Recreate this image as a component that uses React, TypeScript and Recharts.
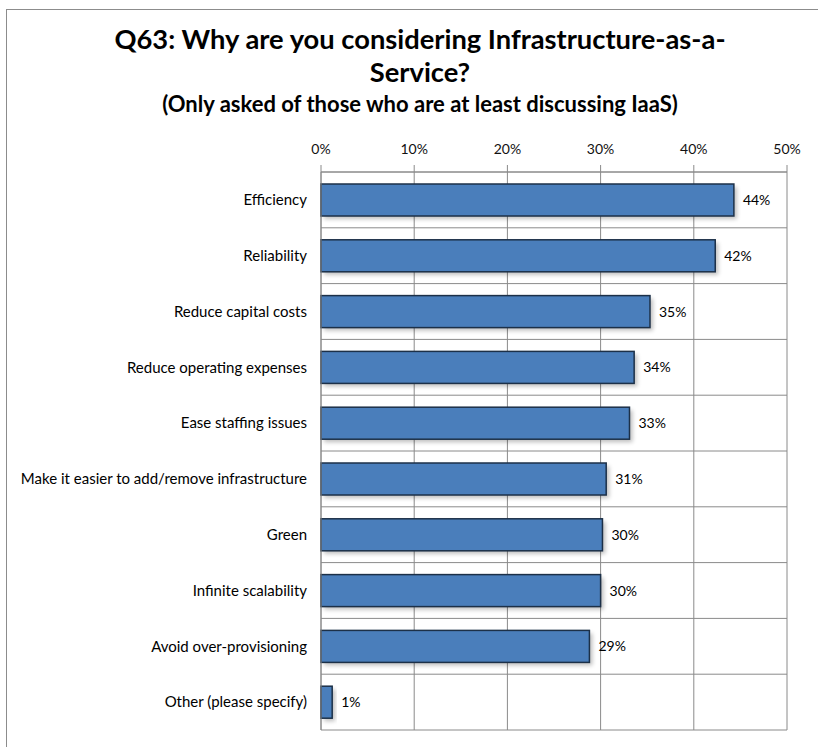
import { BarChart, Bar, XAxis, YAxis, CartesianGrid, LabelList, ReferenceLine } from 'recharts'

const reasons = [
    'Efficiency',
    'Reliability',
    'Reduce capital costs',
    'Reduce operating expenses',
    'Ease staffing issues',
    'Make it easier to add/remove infrastructure',
    'Green',
    'Infinite scalability',
    'Avoid over-provisioning',
    'Other (please specify)',
]
const shares = [44.3, 42.3, 35.3, 33.6, 33.1, 30.6, 30.2, 30.0, 28.8, 1.2]
const pctTicks = [0, 10, 20, 30, 40, 50]

const data = reasons.map((reason, i) => ({ reason, share: shares[i] }))

const FONT = 'Lato, "Open Sans", sans-serif'

// bar with the soft office-style drop shadow
const ShadowBar = (props: any) => {
    const { x, y, width, height } = props
    if (width == null || width <= 0) return null
    return (
        <g>
            <rect x={x + 3} y={y + 3} width={width} height={height} fill="#000" opacity={0.25} filter="url(#barBlur)" />
            <rect x={x} y={y} width={width} height={height} fill="#4a7ebb" stroke="#1c3048" strokeWidth={1.5} />
        </g>
    )
}

export default function App() {
    return (
        <div style={{ position: 'absolute', left: 0, top: 0, width: 818, height: 747, background: '#fff', overflow: 'hidden' }}>
            {/* frame */}
            <div style={{ position: 'absolute', left: 6, top: 9, width: 830, height: 760, border: '1.5px solid #8c8c8c' }} />
            <div style={{ position: 'absolute', left: 0, top: 22, width: 840, textAlign: 'center', fontFamily: FONT, fontWeight: 700, fontSize: 27.3, lineHeight: '33px', color: '#000' }}>
                Q63: Why are you considering Infrastructure-as-a-
                <br />
                Service?
            </div>
            <div style={{ position: 'absolute', left: 0, top: 91, width: 840, textAlign: 'center', fontFamily: FONT, fontWeight: 700, fontSize: 22, lineHeight: '26px', color: '#000' }}>
                (Only asked of those who are at least discussing IaaS)
            </div>
            <div style={{ position: 'absolute', left: 0, top: 0 }}>
                <BarChart
                    width={818}
                    height={747}
                    data={data}
                    layout="vertical"
                    margin={{ top: 142, right: 31, bottom: 17, left: 0 }}
                    barSize={32}
                >
                    <defs>
                        <filter id="barBlur" x="-10%" y="-30%" width="120%" height="160%">
                            <feGaussianBlur stdDeviation="2" />
                        </filter>
                    </defs>
                    <CartesianGrid horizontal={false} stroke="#8a8a8a" strokeWidth={1} />
                    <XAxis
                        type="number"
                        orientation="top"
                        domain={[0, 50]}
                        ticks={pctTicks}
                        tickFormatter={(v: number) => `${v}%`}
                        height={30}
                        tickSize={7}
                        tickMargin={11}
                        stroke="#8a8a8a"
                        tick={{ fill: '#111', fontSize: 14, fontFamily: FONT }}
                        interval={0}
                    />
                    <YAxis
                        type="category"
                        dataKey="reason"
                        width={321}
                        tickLine={false}
                        tickSize={0}
                        tickMargin={14}
                        stroke="#8a8a8a"
                        tick={{ fill: '#000', fontSize: 15, fontFamily: FONT }}
                        interval={0}
                    />
                    {reasons.map((r) => (
                        <ReferenceLine key={r} y={r} position="start" stroke="#8a8a8a" />
                    ))}
                    <ReferenceLine y={reasons[reasons.length - 1]} position="end" stroke="#8a8a8a" />
                    <Bar dataKey="share" shape={ShadowBar} isAnimationActive={false}>
                        <LabelList
                            dataKey="share"
                            position="right"
                            offset={9}
                            formatter={(v: any) => `${Math.round(Number(v))}%`}
                            style={{ fill: '#000', fontSize: 14, fontFamily: FONT }}
                        />
                    </Bar>
                </BarChart>
            </div>
        </div>
    )
}
